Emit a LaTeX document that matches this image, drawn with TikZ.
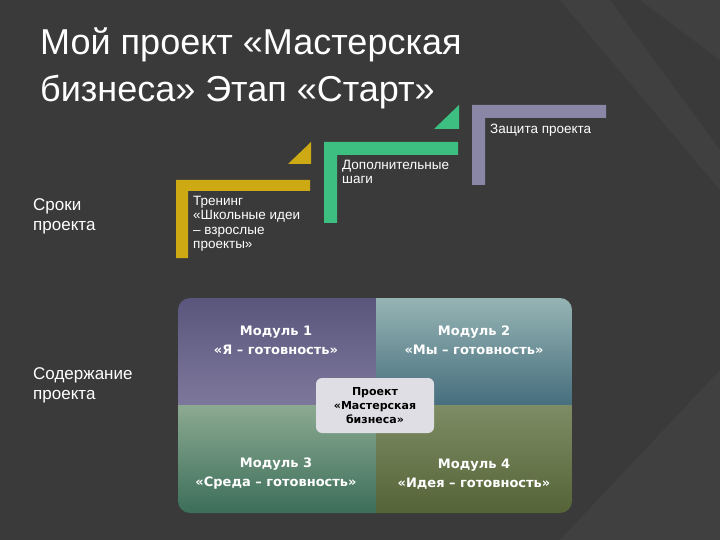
\documentclass[tikz,border=0pt]{standalone}
\usepackage{fontspec}
\setmainfont{Liberation Sans}
\newfontfamily\widebold{DejaVu Sans}
\begin{document}
\begin{tikzpicture}[x=1pt,y=-1pt,
  lbl/.style={text=white,font=\fontsize{13.5}{14.5}\selectfont,align=left,anchor=north west,inner sep=0pt},
  side/.style={text=white,font=\fontsize{17}{20}\selectfont,align=left,anchor=north west,inner sep=0pt},
  modt/.style={text=white,font=\widebold\bfseries\fontsize{13}{19}\selectfont,align=center},
  ttl/.style={anchor=west,text=white,font=\fontsize{36}{40}\selectfont,inner sep=0pt}]
\definecolor{bg}{HTML}{3A3A3A}
\definecolor{band}{HTML}{404040}
\definecolor{yel}{HTML}{CDAA14}
\definecolor{grn}{HTML}{3CBF80}
\definecolor{pur}{HTML}{8A86A6}
\fill[bg] (0,0) rectangle (720,540);
\useasboundingbox (0,0) rectangle (720,540);
\fill[band] (560,0) -- (720,0) -- (720,60) -- (640,0) -- (610,0) -- (720,150) -- (720,190) -- cycle;
\fill[band] (720,370) -- (720,540) -- (560,540) -- cycle;
% title
\node[ttl] (t1) at (40,45) {Мой проект «Мастерская};
\node[ttl] (t2) at (40,92) {бизнеса» Этап «Старт»};
% steps
\fill[yel] (176,258) -- (176,180) -- (310,180) -- (310,191) -- (188,191) -- (188,258) -- cycle;
\fill[yel] (288,164) -- (311,142) -- (311,164) -- cycle;
\fill[grn] (324,223) -- (324,142) -- (458,142) -- (458,155) -- (337,155) -- (337,223) -- cycle;
\fill[grn] (434,129) -- (459,105) -- (459,129) -- cycle;
\fill[pur] (472,185) -- (472,105) -- (606,105) -- (606,118) -- (485,118) -- (485,185) -- cycle;
\node[lbl] (s1) at (193,196) {Тренинг\\«Школьные идеи\\– взрослые\\проекты»};
\node[lbl] (s2) at (342,160) {Дополнительные\\шаги};
\node[lbl] (s3) at (490,124) {Защита проекта};
\node[side] (l1) at (33,198) {Сроки\\проекта};
\node[side] (l2) at (33,367) {Содержание\\проекта};
% matrix
\begin{scope}
\clip[rounded corners=12] (178,298) rectangle (572,513);
\shade[top color={rgb,255:red,90;green,85;blue,124},bottom color={rgb,255:red,125;green,120;blue,155}] (178,298) rectangle (376,405);
\shade[top color={rgb,255:red,150;green,180;blue,180},bottom color={rgb,255:red,70;green,110;blue,125}] (376,298) rectangle (572,405);
\shade[top color={rgb,255:red,140;green,170;blue,145},bottom color={rgb,255:red,60;green,110;blue,90}] (178,405) rectangle (376,513);
\shade[top color={rgb,255:red,125;green,140;blue,100},bottom color={rgb,255:red,85;green,100;blue,55}] (376,405) rectangle (572,513);
\end{scope}
\node[modt] (m1) at (276,340) {Модуль 1\\«Я – готовность»};
\node[modt] (m2) at (474,340) {Модуль 2\\«Мы – готовность»};
\node[modt] (m3) at (276,474) {Модуль 3\\«Среда – готовность»};
\node[modt] (m4) at (474,474) {Модуль 4\\«Идея – готовность»};
\node[fill={rgb,255:red,222;green,222;blue,228},rounded corners=6,minimum width=118,minimum height=55,align=center,font=\widebold\bfseries\fontsize{11}{14}\selectfont] (c) at (375,405.5) {Проект\\«Мастерская\\бизнеса»};
\end{tikzpicture}
\end{document}
